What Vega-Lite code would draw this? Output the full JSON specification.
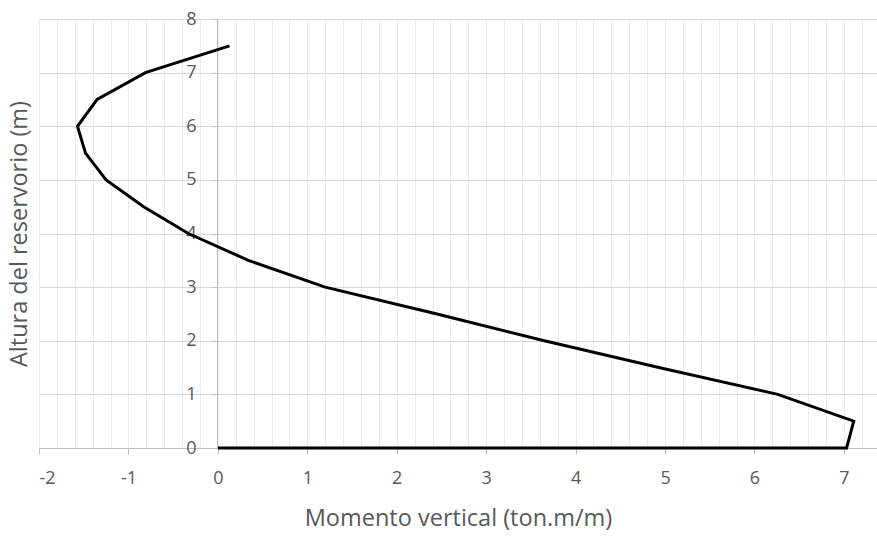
{
  "$schema": "https://vega.github.io/schema/vega-lite/v6.json",
  "width": 838,
  "height": 429,
  "autosize": {"type": "none"},
  "padding": {"left": 39, "top": 19, "right": 0, "bottom": 90},
  "background": "white",
  "config": {
    "view": {"stroke": null},
    "font": "Open Sans",
    "axis": {
      "labelFont": "Open Sans",
      "titleFont": "Open Sans",
      "labelColor": "#595959",
      "titleColor": "#595959",
      "titleFontWeight": "normal",
      "domainColor": "#bfbfbf",
      "tickColor": "#bfbfbf"
    }
  },
  "data": {
    "values": [
      {"i": 1, "momento": 0, "altura": 0},
      {"i": 2, "momento": 7.03, "altura": 0},
      {"i": 3, "momento": 7.11, "altura": 0.5},
      {"i": 4, "momento": 6.26, "altura": 1},
      {"i": 5, "momento": 4.93, "altura": 1.5},
      {"i": 6, "momento": 3.65, "altura": 2},
      {"i": 7, "momento": 2.45, "altura": 2.5},
      {"i": 8, "momento": 1.2, "altura": 3},
      {"i": 9, "momento": 0.34, "altura": 3.5},
      {"i": 10, "momento": -0.33, "altura": 4},
      {"i": 11, "momento": -0.83, "altura": 4.5},
      {"i": 12, "momento": -1.25, "altura": 5},
      {"i": 13, "momento": -1.48, "altura": 5.5},
      {"i": 14, "momento": -1.57, "altura": 6},
      {"i": 15, "momento": -1.35, "altura": 6.5},
      {"i": 16, "momento": -0.81, "altura": 7},
      {"i": 17, "momento": 0.13, "altura": 7.5}
    ]
  },
  "mark": {"type": "line", "color": "black", "strokeWidth": 3, "strokeJoin": "miter", "clip": false},
  "encoding": {
    "order": {"field": "i", "type": "quantitative"},
    "x": {
      "field": "momento",
      "type": "quantitative",
      "scale": {"domain": [-2, 7.37], "nice": false, "zero": false},
      "axis": {
        "title": "Momento vertical (ton.m/m)",
        "titleFontSize": 23.5,
        "titlePadding": 19,
        "values": [-2, -1.8, -1.6, -1.4, -1.2, -1, -0.8, -0.6, -0.4, -0.2, 0, 0.2, 0.4, 0.6, 0.8, 1, 1.2, 1.4, 1.6, 1.8, 2, 2.2, 2.4, 2.6, 2.8, 3, 3.2, 3.4, 3.6, 3.8, 4, 4.2, 4.4, 4.6, 4.8, 5, 5.2, 5.4, 5.6, 5.8, 6, 6.2, 6.4, 6.6, 6.8, 7, 7.2],
        "labelExpr": "abs(datum.value - round(datum.value)) < 0.001 ? '' + round(datum.value) : ''",
        "labelFontSize": 18,
        "labelPadding": 15,
        "tickSize": 6,
        "tickOpacity": {"condition": {"test": "abs(datum.value - round(datum.value)) < 0.001", "value": 1}, "value": 0},
        "grid": true,
        "gridColor": "#ebebeb",
        "gridWidth": 1
      }
    },
    "y": {
      "field": "altura",
      "type": "quantitative",
      "scale": {"domain": [0, 8], "nice": false},
      "axis": {
        "title": "Altura del reservorio (m)",
        "titleFontSize": 23.5,
        "titleX": -198,
        "titleBaseline": "middle",
        "values": [0, 1, 2, 3, 4, 5, 6, 7, 8],
        "offset": -178,
        "labelFontSize": 18,
        "labelPadding": 16,
        "tickSize": 5,
        "grid": true,
        "gridColor": "#d9d9d9",
        "gridWidth": 1
      }
    }
  }
}
